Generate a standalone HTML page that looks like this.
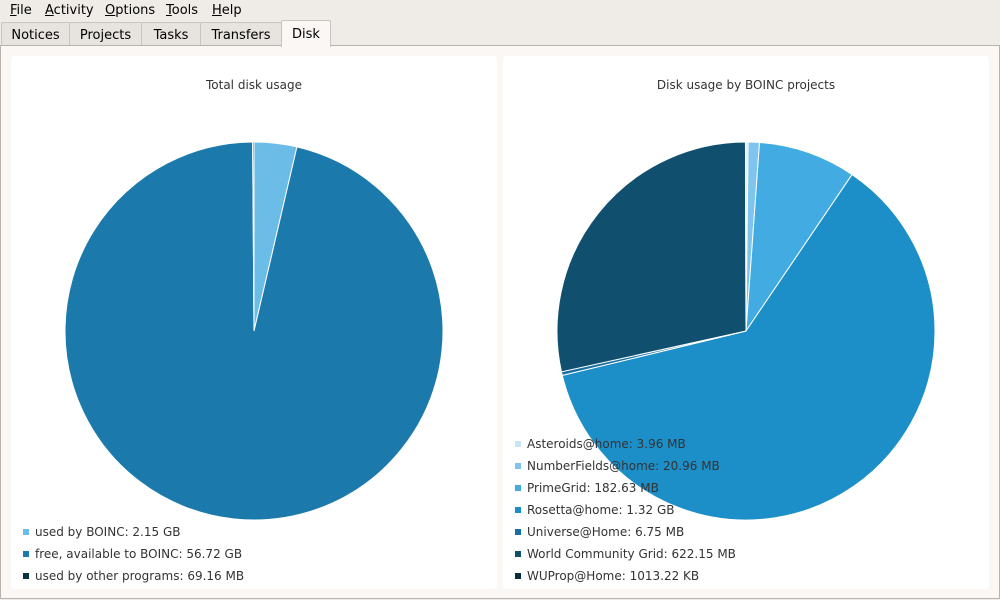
<!DOCTYPE html>
<html><head><meta charset="utf-8"><style>
body{margin:0;width:1000px;height:600px;background:#efebe7;font-family:"DejaVu Sans","Liberation Sans",sans-serif;font-size:13px;color:#000;overflow:hidden;position:relative}
.menu{position:absolute;top:0;left:0;height:20px;}
.menu span{position:absolute;top:3px}
.tab{position:absolute;top:22px;height:23px;border:1px solid #c9c4bf;border-bottom:none;background:#e7e3df;box-sizing:border-box;text-align:center;line-height:25px;border-radius:2px 2px 0 0}
.panel{position:absolute;left:0;top:45px;width:1000px;height:554px;border:1px solid #b8b3ae;box-sizing:border-box;background:#faf7f4}
.card{position:absolute;top:56px;width:486px;height:533px;background:#fff;border-radius:3px}
.t{position:absolute;font-size:12px;color:#333;}
.lg{position:absolute;font-size:12px;color:#333;}
.sq{position:absolute;width:6px;height:6px}
</style></head><body>
<div class="menu">
<span style="left:10px"><u>F</u>ile</span><span style="left:45px"><u>A</u>ctivity</span><span style="left:105px"><u>O</u>ptions</span><span style="left:166px"><u>T</u>ools</span><span style="left:212px"><u>H</u>elp</span>
</div>
<div class="panel"></div>
<div class="tab" style="left:1px;width:69px">Notices</div>
<div class="tab" style="left:69px;width:73px">Projects</div>
<div class="tab" style="left:141px;width:60px">Tasks</div>
<div class="tab" style="left:200px;width:82px">Transfers</div>
<div class="tab" style="left:281px;width:50px;top:20px;height:27px;background:#faf7f4;line-height:27px">Disk</div>
<div class="card" style="left:11px"></div>
<div class="card" style="left:503px"></div>
<div class="t" style="left:0;width:508px;text-align:center;top:78px">Total disk usage</div>
<div class="t" style="left:492px;width:508px;text-align:center;top:78px">Disk usage by BOINC projects</div>
<svg id="s" width="1000" height="600" style="position:absolute;left:0;top:0"></svg>
<div id="lg"></div>
<script>
function pie(cx,cy,r,vals,cols){let tot=vals.reduce((a,b)=>a+b),a=0,h='';
vals.forEach((v,i)=>{let b=a+v/tot*2*Math.PI;let x1=cx+r*Math.sin(a),y1=cy-r*Math.cos(a),x2=cx+r*Math.sin(b),y2=cy-r*Math.cos(b);
h+=`<path d="M${cx},${cy}L${x1},${y1}A${r},${r} 0 ${b-a>Math.PI?1:0} 1 ${x2},${y2}Z" fill="${cols[i]}" stroke="#fff" stroke-width="1"/>`;a=b;});return h;}
let s=document.getElementById('s');
let lc=['#6bbde8','#1b79ab','#0f2f42'];
let rc=['#c6e6f5','#7fc4ec','#42ace2','#1d8fc8','#186fa3','#114f6e','#0a2c3e'];
s.innerHTML=pie(254,331,189,[2.15,56.72,0.0675],lc)+pie(746,331,189,[3.96,20.96,182.63,1351.7,6.75,622.15,0.99],rc);
let L=['used by BOINC: 2.15 GB','free, available to BOINC: 56.72 GB','used by other programs: 69.16 MB'];
let R=['Asteroids@home: 3.96 MB','NumberFields@home: 20.96 MB','PrimeGrid: 182.63 MB','Rosetta@home: 1.32 GB','Universe@Home: 6.75 MB','World Community Grid: 622.15 MB','WUProp@Home: 1013.22 KB'];
let h='';
L.forEach((t,i)=>{let y=533+22*i;h+=`<div class="sq" style="left:23px;top:${y-4}px;background:${lc[i]}"></div><div class="lg" style="left:35px;top:${y-8}px">${t}</div>`});
R.forEach((t,i)=>{let y=445+22*i;h+=`<div class="sq" style="left:515px;top:${y-4}px;background:${rc[i]}"></div><div class="lg" style="left:527px;top:${y-8}px">${t}</div>`});
document.getElementById('lg').innerHTML=h;
</script>
</body></html>
